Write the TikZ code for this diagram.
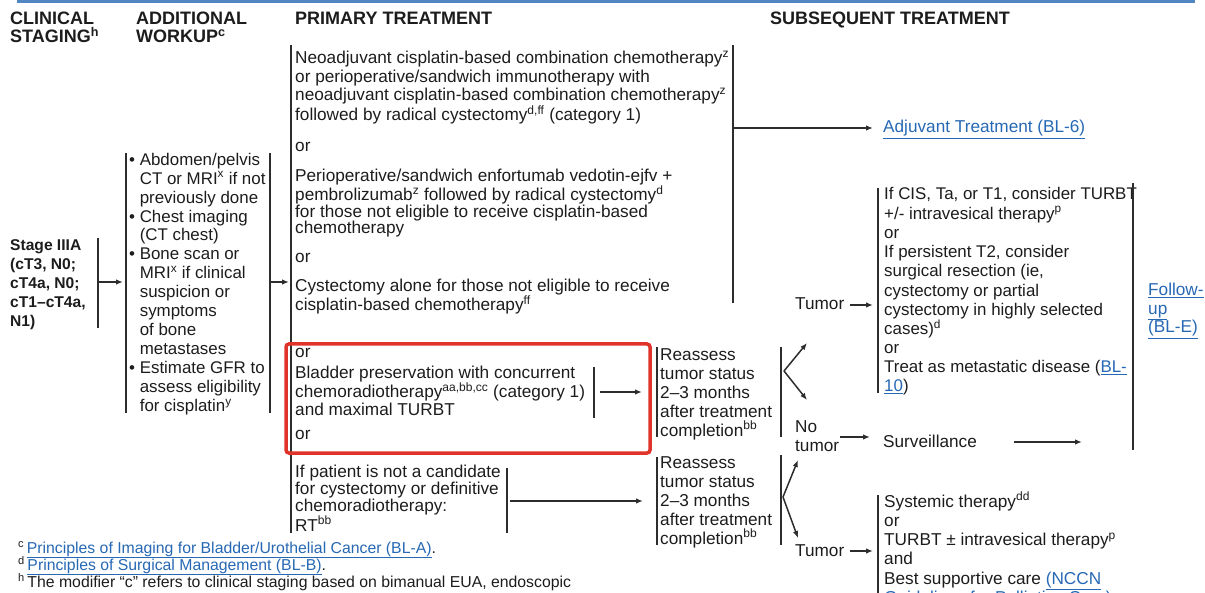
\documentclass[tikz,border=0pt]{standalone}
\usepackage{fontspec}
\setmainfont{Liberation Sans}
\usetikzlibrary{arrows.meta}
\definecolor{nccnblue}{RGB}{38,104,180}
\definecolor{boxred}{RGB}{224,52,42}
\definecolor{txtgray}{RGB}{28,28,28}
\definecolor{bargray}{RGB}{45,45,45}
\newcommand{\lnk}[1]{\textcolor{nccnblue}{\underline{#1}}}
\newcommand{\sps}[1]{\textsuperscript{#1}}
\newcommand{\ind}{\hphantom{\textbullet\ }}

\begin{document}
\begin{tikzpicture}[x=1pt,y=-1pt,
    txt/.style={anchor=base west,inner sep=0pt,align=left,text=txtgray,font=\fontsize{17.2}{19}\selectfont},
    head/.style={txt,font=\fontsize{18}{18}\selectfont\bfseries},
    note/.style={txt,font=\fontsize{15.8}{17}\selectfont},
    bar/.style={line width=2pt,color=bargray},
    arr/.style={line width=1.5pt,color=bargray,-{Latex[length=7pt,width=5.5pt]}},
    redbox/.style={line width=3.5pt,color=boxred,rounded corners=3pt}]
    %%%%% START %%%%%
    % multi-line nodes sit on the baseline of their last line

    \useasboundingbox (0,0) rectangle (1205,593);
    \draw[line width=2.5pt,color=nccnblue!80] (17,1.5) -- (1195,1.5);

    \node[head] (hstage) at (10,43) {CLINICAL\\STAGING\sps{h}};
    \node[head] (hwork) at (136,43) {ADDITIONAL\\WORKUP\sps{c}};
    \node[head] (hprim) at (295,25) {PRIMARY TREATMENT};
    \node[head] (hsub) at (770,25) {SUBSEQUENT TREATMENT};

    % staging and workup
    \node[txt,font=\fontsize{15.6}{19}\selectfont\bfseries] (stage) at (10,327)
        {Stage IIIA\\(cT3, N0;\\cT4a, N0;\\cT1–cT4a,\\N1)};
    \draw[bar] (98,238) -- (98,328);
    \coordinate (stageout) at (98,282);
    \coordinate (workin) at (123,282);
    \draw[arr] (stageout) -- (workin);

    \draw[bar] (126,153) -- (126,413);
    \node[txt,font=\fontsize{16.9}{19}\selectfont] (workup) at (129,412)
        {\textbullet\ Abdomen/pelvis\\\ind CT or MRI\sps{x} if not\\\ind previously done\\
         \textbullet\ Chest imaging\\\ind (CT chest)\\
         \textbullet\ Bone scan or\\\ind MRI\sps{x} if clinical\\\ind suspicion or\\\ind symptoms\\\ind of bone\\\ind metastases\\
         \textbullet\ Estimate GFR to\\\ind assess eligibility\\\ind for cisplatin\sps{y}};
    \draw[bar] (270,153) -- (270,413);
    \coordinate (workout) at (271,282);
    \coordinate (primin) at (289,282);
    \draw[arr] (workout) -- (primin);

    % primary treatment
    \draw[bar] (291,45) -- (291,533);
    \node[txt,font=\fontsize{17.2}{18.5}\selectfont] (neoadj) at (295,120.5)
        {Neoadjuvant cisplatin-based combination chemotherapy\sps{z}\\
         or perioperative/sandwich immunotherapy with\\
         neoadjuvant cisplatin-based combination chemotherapy\sps{z}\\
         followed by radical cystectomy\sps{d,ff} (category 1)};
    \node[txt] (or1) at (295,152) {or};
    \node[txt,font=\fontsize{17.2}{16.7}\selectfont] (enfort) at (295,234)
        {Perioperative/sandwich enfortumab vedotin-ejfv +\\
         pembrolizumab\sps{z} followed by radical cystectomy\sps{d}\\
         for those not eligible to receive cisplatin-based\\
         chemotherapy};
    \node[txt] (or2) at (295,263) {or};
    \node[txt,font=\fontsize{17.2}{17}\selectfont] (cyst) at (295,311)
        {Cystectomy alone for those not eligible to receive\\
         cisplatin-based chemotherapy\sps{ff}};
    \draw[bar] (733,45) -- (733,303);
    \coordinate (cystout) at (733,128);
    \coordinate (adjin) at (873,128);
    \draw[arr] (cystout) -- (adjin);
    \node[txt] (adjuvant) at (883,133) {\lnk{Adjuvant Treatment (BL-6)}};

    \node[txt] (or3) at (295,358) {or};
    \node[txt,font=\fontsize{17.2}{18}\selectfont] (bladder) at (295,416)
        {Bladder preservation with concurrent\\
         chemoradiotherapy\sps{aa,bb,cc} (category 1)\\
         and maximal TURBT};
    \node[txt] (or4) at (295,439) {or};
    \draw[bar] (594,367) -- (594,418);
    \coordinate (bladout) at (600,392);
    \coordinate (reain) at (642,392);
    \draw[arr] (bladout) -- (reain);
    \draw[redbox] (286,344) rectangle (650,453);

    \node[txt,font=\fontsize{17.2}{17}\selectfont] (rt) at (295,531)
        {If patient is not a candidate\\for cystectomy or definitive\\
         chemoradiotherapy:\\RT\sps{bb}};
    \draw[bar] (507,468) -- (507,533);
    \coordinate (rtout) at (510,501);
    \coordinate (reb) at (643,501);
    \draw[arr] (rtout) -- (reb);

    % reassessment
    \draw[bar] (657,347) -- (657,437);
    \node[txt] (reassA) at (660,436)
        {Reassess\\tumor status\\2–3 months\\after treatment\\completion\sps{bb}};
    \draw[bar] (781,347) -- (781,437);
    \coordinate (vA) at (784,371);
    \coordinate (vAup) at (807,343);
    \coordinate (vAdn) at (807,400);
    \draw[arr] (vA) -- (vAup);
    \draw[arr] (vA) -- (vAdn);

    \draw[bar] (657,457) -- (657,545);
    \node[txt] (reassB) at (660,544)
        {Reassess\\tumor status\\2–3 months\\after treatment\\completion\sps{bb}};
    \draw[bar] (781,455) -- (781,545);
    \coordinate (vB) at (783,497);
    \coordinate (vBup) at (798,460);
    \coordinate (vBdn) at (798,538);
    \draw[arr] (vB) -- (vBup);
    \draw[arr] (vB) -- (vBdn);

    % subsequent treatment
    \node[txt] (tumorA) at (795,310) {Tumor};
    \coordinate (tumAout) at (850,305);
    \coordinate (tumAin) at (873,305);
    \draw[arr] (tumAout) -- (tumAin);
    \draw[bar] (878,188) -- (878,393);
    \node[txt,font=\fontsize{16.9}{19.2}\selectfont] (turbt) at (884,392)
        {If CIS, Ta, or T1, consider TURBT\\
         +/- intravesical therapy\sps{p}\\
         or\\
         If persistent T2, consider\\
         surgical resection (ie,\\
         cystectomy or partial\\
         cystectomy in highly selected\\
         cases)\sps{d}\\
         or\\
         Treat as metastatic disease (\lnk{BL-}\\
         \lnk{10})};

    \node[txt] (notumor) at (795,451) {No\\tumor};
    \coordinate (notout) at (840,437);
    \coordinate (notin) at (870,437);
    \draw[arr] (notout) -- (notin);
    \node[txt] (surv) at (883,447) {Surveillance};
    \coordinate (survout) at (1014,442);
    \coordinate (fuin) at (1082,442);
    \draw[arr] (survout) -- (fuin);

    \draw[bar] (1133,183) -- (1133,450);
    \node[txt,font=\fontsize{17.2}{18.5}\selectfont] (followup) at (1148,333)
        {\lnk{Follow-}\\\lnk{up}\\\lnk{(BL-E)}};

    \node[txt] (tumorB) at (795,556) {Tumor};
    \coordinate (tumBout) at (850,551);
    \coordinate (tumBin) at (873,551);
    \draw[arr] (tumBout) -- (tumBin);
    \draw[bar] (878,495) -- (878,600);
    \node[txt,font=\fontsize{17.2}{19.3}\selectfont] (systemic) at (884,603.5)
        {Systemic therapy\sps{dd}\\or\\TURBT ± intravesical therapy\sps{p}\\and\\
         Best supportive care \lnk{(NCCN}\\\lnk{Guidelines for Palliative Care)}};

    % footnotes
    \node[note] (fnc) at (18,553)
        {\sps{c}\,\lnk{Principles of Imaging for Bladder/Urothelial Cancer (BL-A)}.};
    \node[note] (fnd) at (18,570)
        {\sps{d}\,\lnk{Principles of Surgical Management (BL-B)}.};
    \node[note] (fnh) at (18,587)
        {\sps{h}\,The modifier “c” refers to clinical staging based on bimanual EUA, endoscopic};

    %%%%% END %%%%%
\end{tikzpicture}
\end{document}
